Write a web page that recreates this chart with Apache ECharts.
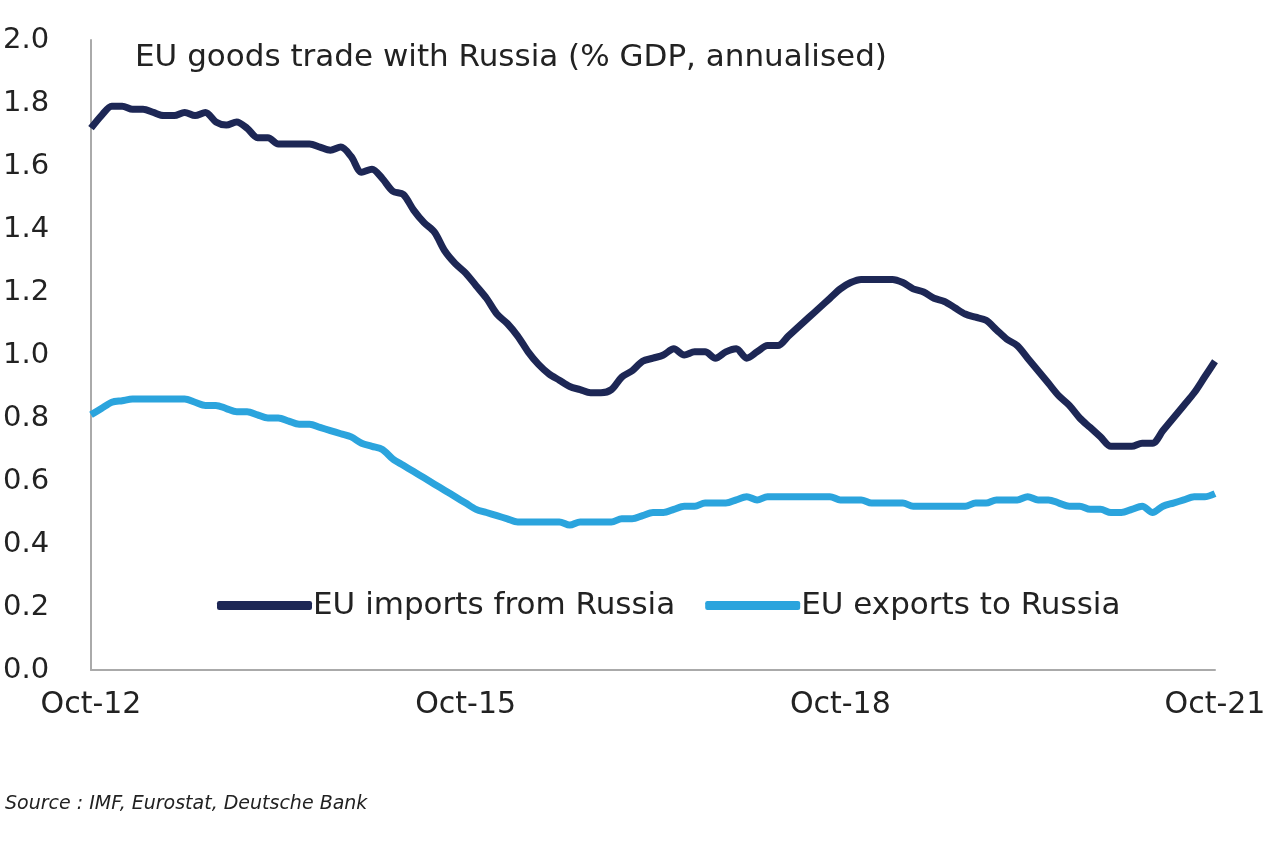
<!DOCTYPE html>
<html>
<head>
<meta charset="utf-8">
<script src="https://cdn.jsdelivr.net/npm/echarts@6/dist/echarts.min.js"></script>
<style>
  html, body { margin: 0; padding: 0; background: #fff; }
  #chart { width: 1280px; height: 846px; }
</style>
</head>
<body>
<div id="chart"></div>
<script>
// EU goods trade with Russia, monthly Oct-12 .. Oct-21
const monthNames = ['Jan','Feb','Mar','Apr','May','Jun','Jul','Aug','Sep','Oct','Nov','Dec'];
const months = [];
for (let i = 0; i < 109; i++) {
    const m = (9 + i) % 12;
    const y = 12 + Math.floor((9 + i) / 12);
    months.push(monthNames[m] + '-' + y);
}

const imports = [
    1.72, 1.76, 1.79, 1.79, 1.78, 1.78, 1.77, 1.76, 1.76, 1.77, 1.76, 1.77,
    1.74, 1.73, 1.74, 1.72, 1.69, 1.69, 1.67, 1.67, 1.67, 1.67, 1.66, 1.65,
    1.66, 1.63, 1.58, 1.59, 1.56, 1.52, 1.51, 1.46, 1.42, 1.39, 1.33, 1.29,
    1.26, 1.22, 1.18, 1.13, 1.10, 1.06, 1.01, 0.97, 0.94, 0.92, 0.90, 0.89,
    0.88, 0.88, 0.89, 0.93, 0.95, 0.98, 0.99, 1.00, 1.02, 1.00, 1.01, 1.01,
    0.99, 1.01, 1.02, 0.99, 1.01, 1.03, 1.03, 1.06, 1.09, 1.12, 1.15, 1.18,
    1.21, 1.23, 1.24, 1.24, 1.24, 1.24, 1.23, 1.21, 1.20, 1.18, 1.17, 1.15,
    1.13, 1.12, 1.11, 1.08, 1.05, 1.03, 0.99, 0.95, 0.91, 0.87, 0.84, 0.80,
    0.77, 0.74, 0.71, 0.71, 0.71, 0.72, 0.72, 0.76, 0.80, 0.84, 0.88, 0.93,
    0.98
];

const exports = [
    0.81, 0.83, 0.85, 0.855, 0.86, 0.86, 0.86, 0.86, 0.86, 0.86, 0.85, 0.84,
    0.84, 0.83, 0.82, 0.82, 0.81, 0.80, 0.80, 0.79, 0.78, 0.78, 0.77, 0.76,
    0.75, 0.74, 0.72, 0.71, 0.70, 0.67, 0.65, 0.63, 0.61, 0.59, 0.57, 0.55,
    0.53, 0.51, 0.50, 0.49, 0.48, 0.47, 0.47, 0.47, 0.47, 0.47, 0.46, 0.47,
    0.47, 0.47, 0.47, 0.48, 0.48, 0.49, 0.50, 0.50, 0.51, 0.52, 0.52, 0.53,
    0.53, 0.53, 0.54, 0.55, 0.54, 0.55, 0.55, 0.55, 0.55, 0.55, 0.55, 0.55,
    0.54, 0.54, 0.54, 0.53, 0.53, 0.53, 0.53, 0.52, 0.52, 0.52, 0.52, 0.52,
    0.52, 0.53, 0.53, 0.54, 0.54, 0.54, 0.55, 0.54, 0.54, 0.53, 0.52, 0.52,
    0.51, 0.51, 0.50, 0.50, 0.51, 0.52, 0.50, 0.52, 0.53, 0.54, 0.55, 0.55,
    0.56
];

const navy = '#1d2755';
const sky = '#2ba4dd';
const font = 'DejaVu Sans, sans-serif';

const option = {
    animation: false,
    grid: { left: 90, right: 65, top: 40, bottom: 176 },
    graphic: [
        { type: 'text', left: 135, top: 42,
          style: { text: 'EU goods trade with Russia (% GDP, annualised)', font: '31px ' + font, fill: '#222' } },
        { type: 'text', left: 5, top: 795,
          style: { text: 'Source : IMF, Eurostat, Deutsche Bank', font: 'italic 19px ' + font, fill: '#222' } }
    ],
    legend: {
        left: 212, top: 585,
        icon: 'roundRect', itemWidth: 95, itemHeight: 9, itemGap: 30,
        itemStyle: {},
        textStyle: { fontSize: 31, fontFamily: font, color: '#222', padding: [0, 0, 0, -4] },
        data: ['EU imports from Russia', 'EU exports to Russia']
    },
    xAxis: {
        type: 'category', data: months, boundaryGap: false,
        axisLine: { lineStyle: { color: '#aaa', width: 2 } },
        axisTick: { show: false },
        axisLabel: { interval: 35, fontSize: 30, fontFamily: font, color: '#222', margin: 20 }
    },
    yAxis: {
        type: 'value', min: 0, max: 2, interval: 0.2,
        splitLine: { show: false },
        axisLine: { show: true, lineStyle: { color: '#aaa', width: 2 } },
        axisLabel: { fontSize: 29, fontFamily: font, color: '#222', align: 'left', margin: 88,
                     formatter: v => v.toFixed(1) }
    },
    series: [
        { name: 'EU imports from Russia', type: 'line', data: imports, showSymbol: false, smooth: 0.3,
          lineStyle: { color: navy, width: 7 }, itemStyle: { color: navy } },
        { name: 'EU exports to Russia', type: 'line', data: exports, showSymbol: false, smooth: 0.3,
          lineStyle: { color: sky, width: 7 }, itemStyle: { color: sky } }
    ]
};

const myChart = echarts.init(document.getElementById('chart'));
myChart.setOption(option);
</script>
</body>
</html>
